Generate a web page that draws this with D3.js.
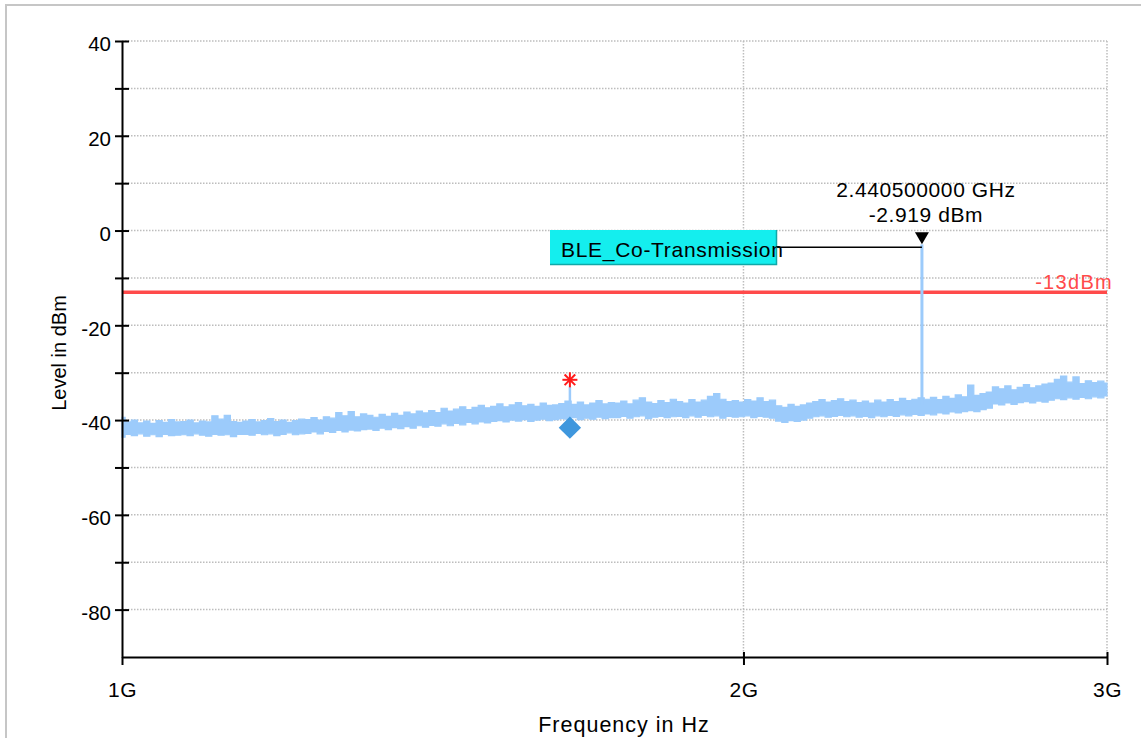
<!DOCTYPE html>
<html><head><meta charset="utf-8">
<script src="https://cdn.jsdelivr.net/npm/d3@7"></script>
<style>
body{margin:0;background:#fff;overflow:hidden}
svg{display:block}
text{font-family:"Liberation Sans",Arial,Helvetica,sans-serif}
</style>
</head><body>
<svg id="c" width="1141" height="738"></svg>
<script>
// ---- data ----
const xTicks = [1e9, 2e9, 3e9];
const xTickLabels = ["1G", "2G", "3G"];
const yTicks = [40, 30, 20, 10, 0, -10, -20, -30, -40, -50, -60, -70, -80];
const yTickLabels = [40, 20, 0, -20, -40, -60, -80];
const sweepStart = 1e9, sweepStop = 3e9;
const yMin = -90, yMax = 40;

// trace envelope (dBm), evenly spaced on the log-frequency axis
const traceHi = [
 -39.4,-40.4,-40.0,-40.6,-40.2,-40.7,-40.1,-40.5,-39.9,-40.4,
 -40.3,-40.0,-40.6,-40.2,-40.4,-39.1,-39.8,-39.0,-40.3,-40.5,
 -40.2,-39.9,-40.4,-40.1,-39.7,-40.3,-40.0,-40.5,-40.1,-39.8,
 -39.9,-39.5,-40.0,-39.3,-39.6,-38.4,-39.1,-38.2,-39.3,-38.7,
 -39.0,-39.4,-38.8,-39.2,-38.6,-39.0,-38.3,-38.7,-38.1,-38.5,
 -38.0,-38.4,-37.5,-38.1,-37.7,-37.2,-37.8,-37.3,-36.9,-37.4,
 -37.1,-36.6,-37.2,-36.8,-36.3,-37.0,-36.7,-37.1,-36.4,-36.9,
 -36.8,-36.5,-36.0,-36.7,-36.2,-36.8,-36.4,-35.9,-36.6,-36.3,
 -36.4,-36.0,-36.6,-35.8,-35.3,-36.2,-36.5,-35.9,-36.3,-35.6,
 -36.1,-36.4,-35.7,-36.2,-35.8,-35.0,-34.4,-35.6,-36.1,-35.9,
 -36.2,-35.7,-36.0,-35.3,-36.1,-35.8,-37.0,-37.3,-36.7,-37.1,
 -36.8,-36.4,-36.1,-35.7,-36.2,-35.9,-35.5,-36.1,-35.8,-36.3,
 -36.0,-36.4,-35.8,-36.2,-35.7,-36.1,-35.4,-35.9,-35.6,-35.3,
 -35.6,-35.2,-35.7,-35.0,-35.4,-34.7,-35.1,-32.6,-34.8,-34.4,
 -34.1,-33.0,-33.4,-32.8,-33.6,-33.1,-32.5,-33.2,-32.8,-32.4,
 -32.2,-31.4,-30.7,-32.0,-30.9,-32.3,-31.7,-32.1,-31.8,-32.2
];
const traceLo = [
 -43.6,-43.0,-43.3,-42.9,-43.4,-43.1,-43.5,-43.0,-43.3,-43.2,
 -43.1,-43.3,-42.9,-43.2,-43.4,-43.0,-43.2,-43.1,-43.5,-43.0,
 -43.0,-43.2,-42.8,-43.1,-42.9,-43.3,-43.0,-42.7,-43.1,-42.9,
 -42.8,-42.5,-42.9,-42.4,-42.6,-42.2,-42.5,-42.1,-42.3,-42.0,
 -41.9,-42.2,-41.7,-42.0,-41.6,-41.8,-41.4,-41.7,-41.2,-41.5,
 -41.1,-41.3,-40.8,-41.2,-40.7,-41.0,-40.5,-40.8,-40.4,-40.6,
 -40.3,-40.1,-40.4,-40.0,-40.2,-39.9,-40.3,-40.0,-39.8,-40.1,
 -39.9,-39.7,-39.8,-39.5,-39.9,-39.6,-39.8,-39.4,-39.7,-39.5,
 -39.5,-39.2,-39.6,-39.3,-39.1,-39.7,-39.4,-39.2,-39.5,-39.3,
 -39.2,-39.5,-39.1,-39.4,-39.0,-39.3,-39.1,-39.6,-39.2,-39.4,
 -39.3,-39.1,-39.5,-39.2,-39.4,-39.6,-40.2,-40.5,-40.1,-40.3,
 -40.0,-39.6,-39.3,-39.1,-39.4,-39.2,-39.0,-39.3,-39.1,-39.4,
 -39.2,-39.5,-39.1,-39.3,-39.0,-39.2,-38.9,-39.1,-38.8,-39.0,
 -38.7,-38.9,-38.5,-38.7,-38.3,-38.5,-38.2,-38.0,-38.2,-37.8,
 -37.5,-36.6,-36.8,-36.4,-36.7,-36.3,-36.1,-36.4,-36.0,-36.2,
 -35.8,-35.5,-35.7,-35.3,-35.6,-35.2,-35.5,-35.1,-35.3,-34.9
];

const limitLevel = -13;
const limitLabel = "-13dBm";
const peakFreq = 2.4405e9, peakLevel = -2.919, peakBase = -37.0;
const spurFreq = 1.648e9, spurLevel = -33.0, spurBase = -37.8;
const starLevel = -31.5;
const diamondLevel = -41.6;
const markerName = "BLE_Co-Transmission";
const markerText = ["2.440500000 GHz", "-2.919 dBm"];
const xTitle = "Frequency in Hz";
const yTitle = "Level in dBm";

// ---- drawing ----
const svg = d3.select("#c");
const x = d3.scaleLog().domain([sweepStart, sweepStop]).range([122, 1107]);
const y = d3.scaleLinear().domain([yMin, yMax]).range([657, 41]);

// outer frame
svg.append("rect").attr("x", 6).attr("y", 5).attr("width", 1200).attr("height", 800)
  .attr("fill", "none").attr("stroke", "#c6c6c6").attr("stroke-width", 2);

// grid
const grid = svg.append("g").attr("stroke", "#bdbdbd").attr("stroke-width", 1.5)
  .attr("stroke-dasharray", "1.5,1.5");
grid.selectAll("line.h").data(yTicks).join("line")
  .attr("x1", x(sweepStart)).attr("x2", x(sweepStop))
  .attr("y1", d => y(d)).attr("y2", d => y(d));
grid.selectAll("line.v").data(xTicks.slice(1)).join("line")
  .attr("x1", d => x(d)).attr("x2", d => x(d))
  .attr("y1", y(yMax)).attr("y2", y(yMin));

// limit line
svg.append("line").attr("x1", x(sweepStart)).attr("x2", x(sweepStop))
  .attr("y1", y(limitLevel)).attr("y2", y(limitLevel))
  .attr("stroke", "#ff4a4a").attr("stroke-width", 3.5);
svg.append("text").attr("x", 1113).attr("y", y(limitLevel) - 3)
  .attr("text-anchor", "end").attr("fill", "#ff4a4a")
  .attr("font-size", 20).attr("letter-spacing", 1.3).text(limitLabel);

// trace
const n = traceHi.length;
const fAt = t => sweepStart * Math.pow(sweepStop / sweepStart, Math.max(0, Math.min(1, t / (n - 1))));
const bins = traceHi.map((h, i) => ({f: fAt(i), hi: h, lo: traceLo[i]}));
const traceColor = "#9ccbfb";
svg.append("path").datum(bins)
  .attr("d", d3.area().curve(d3.curveStep).x(d => x(d.f)).y0(d => y(d.lo)).y1(d => y(d.hi)))
  .attr("fill", traceColor).attr("stroke", traceColor).attr("stroke-width", 1.2);

// spur + peak lines
svg.append("line").attr("x1", x(spurFreq)).attr("x2", x(spurFreq))
  .attr("y1", y(spurBase)).attr("y2", y(spurLevel))
  .attr("stroke", traceColor).attr("stroke-width", 2.5);
svg.append("line").attr("x1", x(peakFreq)).attr("x2", x(peakFreq))
  .attr("y1", y(peakBase)).attr("y2", y(peakLevel))
  .attr("stroke", traceColor).attr("stroke-width", 3);

// asterisk marker
const sx = x(spurFreq), sy = y(starLevel);
const star = svg.append("g").attr("stroke", "#ff1a1a").attr("stroke-width", 2);
[0, 45, 90, 135].forEach(a => {
  const r = a * Math.PI / 180, L = 7.5;
  star.append("line").attr("x1", sx - L * Math.cos(r)).attr("y1", sy - L * Math.sin(r))
    .attr("x2", sx + L * Math.cos(r)).attr("y2", sy + L * Math.sin(r));
});

// diamond marker
svg.append("path")
  .attr("d", d3.symbol(d3.symbolSquare, 250)())
  .attr("transform", `translate(${x(spurFreq)},${y(diamondLevel)}) rotate(45)`)
  .attr("fill", "#3f97dd");

// axes
const yAxis = d3.axisLeft(y).tickValues(yTicks).tickSize(7).tickSizeOuter(0).tickPadding(4)
  .tickFormat(d => yTickLabels.includes(d) ? String(d) : "");
const gy = svg.append("g").attr("transform", `translate(${x(sweepStart)},0)`).call(yAxis);
gy.select(".domain").attr("stroke", "#000").attr("stroke-width", 2);
gy.selectAll(".tick line").attr("stroke", "#000").attr("stroke-width", 2).attr("x2", 7).attr("x1", -7);
gy.selectAll(".tick text").attr("font-size", 20.5).attr("fill", "#000").attr("dy", "0.48em");

const xAxis = d3.axisBottom(x).tickValues(xTicks).tickSize(8).tickSizeOuter(0).tickPadding(17)
  .tickFormat((d, i) => xTickLabels[i]);
const gx = svg.append("g").attr("transform", `translate(0,${y(yMin)})`).call(xAxis);
gx.select(".domain").attr("stroke", "#000").attr("stroke-width", 2);
gx.selectAll(".tick line").attr("stroke", "#000").attr("stroke-width", 2)
  .attr("y1", (d, i) => i === 0 ? 0 : -5).attr("y2", 8);
gx.selectAll(".tick text").attr("font-size", 21).attr("letter-spacing", 0.5).attr("fill", "#000");

// titles
svg.append("text").attr("x", 624).attr("y", 732).attr("text-anchor", "middle")
  .attr("font-size", 21.5).attr("letter-spacing", 1).text(xTitle);
svg.append("text").attr("transform", "translate(66,353) rotate(-90)").attr("text-anchor", "middle")
  .attr("font-size", 20).text(yTitle);

// peak marker
const px = x(peakFreq), py = y(peakLevel);
svg.append("path").attr("d", `M${px},${py} L${px - 7},${py - 12} L${px + 7},${py - 12} Z`).attr("fill", "#000");
svg.selectAll("text.pk").data(markerText).join("text")
  .attr("x", px + 4).attr("y", (d, i) => 197 + i * 25)
  .attr("text-anchor", "middle").attr("font-size", 21).attr("letter-spacing", 0.6).text(d => d);

// label box
svg.append("line").attr("x1", 777).attr("x2", px).attr("y1", py + 3).attr("y2", py + 3)
  .attr("stroke", "#000").attr("stroke-width", 1.5);
svg.append("rect").attr("x", 550).attr("y", 230).attr("width", 227).attr("height", 35)
  .attr("fill", "#14eeee");
svg.append("path").attr("d", "M550,264.5 L776.5,264.5 L776.5,230").attr("fill", "none")
  .attr("stroke", "#10a8a8").attr("stroke-width", 1.5);
svg.append("text").attr("x", 561).attr("y", 257).attr("font-size", 21).attr("letter-spacing", 0.7)
  .text(markerName);
</script>
</body></html>
